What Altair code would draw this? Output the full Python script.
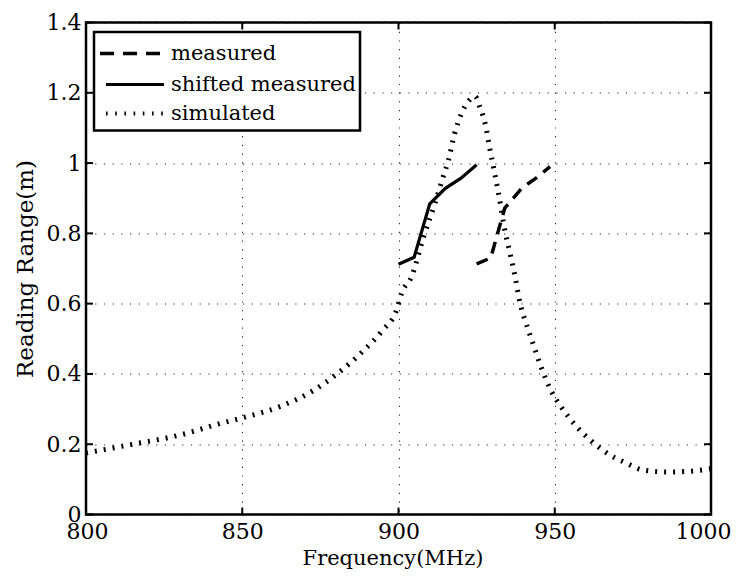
import altair as alt
import pandas as pd

# ---- data ----
sim_freq = [800, 815, 830, 843, 850, 862, 873, 881, 889, 895, 899.4, 901, 904.2, 908,
            911.7, 914.3, 916, 918, 920.2, 922.3, 924.5, 926, 927.7, 929.3, 931, 932,
            934, 935.7, 937.3, 938.9, 940.5, 943, 945.8, 949, 952, 957, 962, 967.7,
            973, 978, 986, 993, 1000]
sim_range = [0.175, 0.200, 0.226, 0.259, 0.275, 0.307, 0.354, 0.405, 0.468, 0.525, 0.582,
             0.63, 0.677, 0.79, 0.886, 0.961, 1.009, 1.085, 1.142, 1.175, 1.19, 1.16,
             1.113, 1.037, 0.961, 0.914, 0.81, 0.743, 0.677, 0.601, 0.553, 0.487, 0.416,
             0.349, 0.307, 0.25, 0.207, 0.169, 0.146, 0.127, 0.121, 0.123, 0.13]

shifted_freq = [900, 905, 910, 915, 920, 925]
shifted_range = [0.712, 0.732, 0.884, 0.928, 0.957, 0.995]

meas_freq = [925, 929.5, 934, 939.5, 944, 948.5]
meas_range = [0.713, 0.73, 0.872, 0.929, 0.957, 0.99]

series_names = ["measured", "shifted measured", "simulated"]
x_ticks = [800, 850, 900, 950, 1000]
y_ticks = [0, 0.2, 0.4, 0.6, 0.8, 1.0, 1.2, 1.4]

W, H = 625, 492
FONT = "DejaVu Serif"

df_sim = pd.DataFrame({"freq": sim_freq, "range": sim_range})
df_shift = pd.DataFrame({"freq": shifted_freq, "range": shifted_range})
df_meas = pd.DataFrame({"freq": meas_freq, "range": meas_range})
df_xt = pd.DataFrame({"freq": x_ticks})
df_yt = pd.DataFrame({"range": y_ticks})

xscale = alt.Scale(domain=[800, 1000], nice=False, zero=False)
yscale = alt.Scale(domain=[0, 1.4], nice=False)

xaxis = alt.Axis(title="Frequency(MHz)", values=x_ticks, format="d", grid=True,
                 ticks=False, domain=False, labelPadding=7, titlePadding=5,
                 titleFontSize=21, titleX=W / 2 - 6,
                 labelFlush=True, labelFlushOffset=20)
yaxis = alt.Axis(title="Reading Range(m)", values=y_ticks, format="~g", grid=True,
                 ticks=False, domain=False, labelPadding=5, titlePadding=9,
                 titleFontSize=23, labelFlush=False)

X = alt.X("freq:Q", scale=xscale, axis=xaxis)
Y = alt.Y("range:Q", scale=yscale, axis=yaxis)

sim = alt.Chart(df_sim).mark_line(
    color="black", strokeWidth=5, strokeDash=[2, 7], strokeCap="butt",
    interpolate="monotone").encode(x=X, y=Y)
shifted = alt.Chart(df_shift).mark_line(
    color="black", strokeWidth=3.2).encode(x=X, y=Y)
meas = alt.Chart(df_meas).mark_line(
    color="black", strokeWidth=3.5, strokeDash=[12, 8], strokeCap="butt").encode(x=X, y=Y)

# inward tick marks on all four sides
tk = dict(color="black", strokeWidth=2)
xt_bot = alt.Chart(df_xt).mark_rule(**tk).encode(x=X, y=alt.value(H), y2=alt.value(H - 7))
xt_top = alt.Chart(df_xt).mark_rule(**tk).encode(x=X, y=alt.value(0), y2=alt.value(7))
yt_left = alt.Chart(df_yt).mark_rule(**tk).encode(y=Y, x=alt.value(0), x2=alt.value(7))
yt_right = alt.Chart(df_yt).mark_rule(**tk).encode(y=Y, x=alt.value(W), x2=alt.value(W - 7))

# legend box
leg_df = pd.DataFrame({"name": series_names})
leg_box = alt.Chart(leg_df.head(1)).mark_rect(
    fill="white", stroke="black", strokeWidth=2.5).encode(
    x=alt.value(8), x2=alt.value(274), y=alt.value(9.5), y2=alt.value(108))

row_y = [31, 62, 91]
styles = [
    dict(strokeWidth=3.5, strokeDash=[14, 9], strokeCap="butt"),
    dict(strokeWidth=3.2),
    dict(strokeWidth=4, strokeDash=[1.6, 7.6], strokeCap="butt"),
]
leg_layers = []
for i, name in enumerate(series_names):
    d = pd.DataFrame({"name": [name]})
    leg_layers.append(alt.Chart(d).mark_rule(color="black", **styles[i]).encode(
        x=alt.value(14 if i == 0 else 20), x2=alt.value(78), y=alt.value(row_y[i])))
    leg_layers.append(alt.Chart(d).mark_text(
        align="left", baseline="middle", font=FONT, fontSize=21, color="black").encode(
        text="name:N", x=alt.value(85), y=alt.value(row_y[i])))

chart = alt.layer(sim, shifted, meas, xt_bot, xt_top, yt_left, yt_right, leg_box,
                  *leg_layers).properties(
    width=W, height=H,
    padding={"left": 78, "top": 14.5, "right": 22, "bottom": 56},
    autosize=alt.AutoSizeParams(type="none"),
).configure_view(
    stroke="black", strokeWidth=2.5
).configure_axis(
    labelFont=FONT, labelFontSize=22, labelFontWeight="normal", labelColor="black",
    titleFont=FONT, titleFontWeight="normal", titleColor="black",
    gridColor="#000", gridDash=[1.2, 7.5], gridWidth=1.1, gridOpacity=0.85,
)

chart.save("out.html", embed_options={"renderer": "svg", "actions": False})
